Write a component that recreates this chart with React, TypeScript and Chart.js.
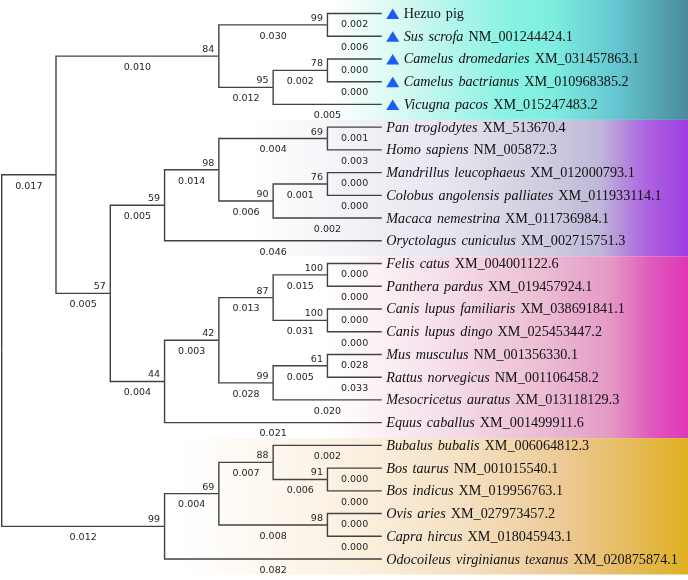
import React, { useEffect, useRef } from 'react';
import { Chart, registerables } from 'chart.js';

Chart.register(...registerables);

// ---------- DATA ----------
const speciesNames = [
  'Hezuo pig', 'Sus scrofa', 'Camelus dromedaries', 'Camelus bactrianus', 'Vicugna pacos',
  'Pan troglodytes', 'Homo sapiens', 'Mandrillus leucophaeus', 'Colobus angolensis palliates',
  'Macaca nemestrina', 'Oryctolagus cuniculus', 'Felis catus', 'Panthera pardus',
  'Canis lupus familiaris', 'Canis lupus dingo', 'Mus musculus', 'Rattus norvegicus',
  'Mesocricetus auratus', 'Equus caballus', 'Bubalus bubalis', 'Bos taurus', 'Bos indicus',
  'Ovis aries', 'Capra hircus', 'Odocoileus virginianus texanus',
];
const accessions = [
  '', 'NM_001244424.1', 'XM_031457863.1', 'XM_010968385.2', 'XM_015247483.2',
  'XM_513670.4', 'NM_005872.3', 'XM_012000793.1', 'XM_011933114.1',
  'XM_011736984.1', 'XM_002715751.3', 'XM_004001122.6', 'XM_019457924.1',
  'XM_038691841.1', 'XM_025453447.2', 'NM_001356330.1', 'NM_001106458.2',
  'XM_013118129.3', 'XM_001499911.6', 'XM_006064812.3', 'NM_001015540.1', 'XM_019956763.1',
  'XM_027973457.2', 'XM_018045943.1', 'XM_020875874.1',
];
const italicLeaves = [false, true, true, true, true, true, true, true, true, true, true, true, true,
  true, true, true, true, true, true, true, true, true, true, true, true];
const markedLeaves = [true, true, true, true, true];

// Tree topology: leaf indices, bootstrap values after ')', branch lengths after ':'
const treeNewick =
  '(' +
  '(' +
  '((0:0.002,1:0.006)99:0.030,((2:0.000,3:0.000)78:0.002,4:0.005)95:0.012)84:0.010,' +
  '(' +
  '(((5:0.001,6:0.003)69:0.004,((7:0.000,8:0.000)76:0.001,9:0.002)90:0.006)98:0.014,10:0.046)59:0.005,' +
  '((((11:0.000,12:0.000)100:0.015,(13:0.000,14:0.000)100:0.031)87:0.013,((15:0.028,16:0.033)61:0.005,17:0.020)99:0.028)42:0.003,18:0.021)44:0.004' +
  ')57:0.005' +
  '):0.017,' +
  '(((19:0.002,(20:0.000,21:0.000)91:0.006)88:0.007,(22:0.000,23:0.000)98:0.008)69:0.004,24:0.082)99:0.012' +
  ');';

// Coloured clade bands (first and last leaf row)
const cladeFirstRow = [0, 5, 11, 19];
const cladeLastRow = [4, 10, 18, 24];
const cladeGradientStart = [330, 250, 330, 180];
const cladeColorStops: [number, string][][] = [
  [[0, '#ffffff'], [0.2, '#d6f9f3'], [0.5, '#88f2e3'], [0.62, '#7eeee0'], [0.8, '#64c6d0'], [1, '#4a8a9c']],
  [[0, '#ffffff'], [0.45, '#e7e5ef'], [0.7, '#cdc8de'], [0.8, '#bfb6d9'], [0.9, '#ad66df'], [1, '#a03ce2']],
  [[0, '#ffffff'], [0.3, '#f6e0eb'], [0.6, '#ebbcd3'], [0.78, '#e59ac6'], [0.9, '#e058bd'], [1, '#df36b8']],
  [[0, '#ffffff'], [0.35, '#fbf0e0'], [0.55, '#f5e1c3'], [0.75, '#edca98'], [0.88, '#e5bb5e'], [1, '#dfb020']],
];

// ---------- TREE PARSING / LAYOUT ----------
type TNode = {
  children: TNode[];
  leaf?: number;
  len?: string;
  boot?: string;
  parent?: TNode;
  x: number;
  y: number;
  height: number;
};

function parseNewick(src: string): TNode {
  const s = src.replace(/\s+/g, '');
  let i = 0;
  function node(): TNode {
    const n: TNode = { children: [], x: 0, y: 0, height: 0 };
    if (s[i] === '(') {
      i++;
      const c = node();
      c.parent = n;
      n.children.push(c);
      while (s[i] === ',') {
        i++;
        const c2 = node();
        c2.parent = n;
        n.children.push(c2);
      }
      i++; // ')'
      let lab = '';
      while (i < s.length && /[0-9A-Za-z_]/.test(s[i])) lab += s[i++];
      if (lab) n.boot = lab;
    } else {
      let lab = '';
      while (i < s.length && /[0-9]/.test(s[i])) lab += s[i++];
      n.leaf = parseInt(lab, 10);
    }
    if (s[i] === ':') {
      i++;
      let l = '';
      while (i < s.length && /[0-9.]/.test(s[i])) l += s[i++];
      n.len = l;
    }
    return n;
  }
  return node();
}

function layout(root: TNode) {
  const all: TNode[] = [];
  function h(n: TNode): number {
    all.push(n);
    if (n.leaf !== undefined) {
      n.height = 0;
      n.y = n.leaf;
      return 0;
    }
    let m = 0;
    n.children.forEach((c) => (m = Math.max(m, h(c))));
    n.height = m + 1;
    n.y = (n.children[0].y + n.children[n.children.length - 1].y) / 2;
    return n.height;
  }
  const maxH = h(root);
  all.forEach((n) => (n.x = maxH - n.height));
  return { all, maxH };
}

export default function App() {
  const ref = useRef<HTMLCanvasElement | null>(null);

  useEffect(() => {
    document.body.style.margin = '0';
    const canvas = ref.current;
    if (!canvas) return;
    const root = parseNewick(treeNewick);
    const { all, maxH } = layout(root);
    const branches = all.filter((n) => n.parent);

    const lineColor = '#424242';
    const datasets: any[] = branches.map((n) => ({
      data: [
        { x: n.parent!.x, y: n.parent!.y },
        { x: n.parent!.x, y: n.y },
        { x: n.x, y: n.y },
      ],
      showLine: true,
      borderColor: lineColor,
      borderWidth: 1.4,
      pointRadius: 0,
      tension: 0,
      fill: false,
    }));

    const bandPlugin = {
      id: 'bands',
      beforeDatasetsDraw(chart: any) {
        const ctx = chart.ctx as CanvasRenderingContext2D;
        const ys = chart.scales.y;
        const area = chart.chartArea;
        ctx.save();
        let prevBottom = area.top;
        cladeFirstRow.forEach((first, k) => {
          const top = k === 0 ? area.top : prevBottom;
          const bottom = ys.getPixelForValue(cladeLastRow[k] + 0.68);
          prevBottom = bottom;
          const x0 = cladeGradientStart[k];
          const g = ctx.createLinearGradient(x0, 0, area.right, 0);
          cladeColorStops[k].forEach(([o, c]) => g.addColorStop(o, c));
          ctx.fillStyle = g;
          ctx.fillRect(x0, top, area.right - x0, bottom - top);
        });
        ctx.restore();
      },
    };

    const labelPlugin = {
      id: 'treeLabels',
      afterDatasetsDraw(chart: any) {
        const ctx = chart.ctx as CanvasRenderingContext2D;
        const xs = chart.scales.x;
        const ys = chart.scales.y;
        ctx.save();
        // branch lengths & bootstrap values
        ctx.font = '9.5px "DejaVu Sans"';
        ctx.fillStyle = '#1e1e1e';
        ctx.textBaseline = 'alphabetic';
        branches.forEach((n) => {
          const p1 = xs.getPixelForValue(n.parent!.x);
          const p2 = xs.getPixelForValue(n.x);
          const py = ys.getPixelForValue(n.y);
          if (n.len) {
            ctx.textAlign = 'center';
            ctx.fillText(n.len, (p1 + p2) / 2, py + 13.8);
          }
          if (n.boot) {
            ctx.textAlign = 'right';
            ctx.fillText(n.boot, p2 - 4.5, py - 4);
          }
        });
        // leaf labels
        const tipX = xs.getPixelForValue(maxH);
        ctx.textAlign = 'left';
        const c: any = ctx;
        if ('wordSpacing' in c) c.wordSpacing = '1.5px';
        speciesNames.forEach((name, i) => {
          const py = ys.getPixelForValue(i);
          let tx = tipX + 4.5;
          if (markedLeaves[i]) {
            const cx = tipX + 11;
            const cy = py + 0.5;
            ctx.fillStyle = '#1c5cf5';
            ctx.beginPath();
            ctx.moveTo(cx, cy - 5.5);
            ctx.lineTo(cx + 6.5, cy + 5);
            ctx.lineTo(cx - 6.5, cy + 5);
            ctx.closePath();
            ctx.fill();
            tx = tipX + 22;
          }
          ctx.fillStyle = '#111';
          ctx.font = (italicLeaves[i] ? 'italic ' : '') + '14.2px "Liberation Serif"';
          ctx.fillText(name, tx, py + 4.5);
          const w = ctx.measureText(name + ' ').width;
          if (accessions[i]) {
            ctx.font = '14.2px "Liberation Serif"';
            ctx.fillText(accessions[i], tx + w, py + 4.5);
          }
        });
        ctx.restore();
      },
    };

    const pxPerLevel = 54.29;
    const x0 = 1.7;
    const pxPerRow = 22.73;
    const y0 = 13.5;
    const W = 688;
    const H = 580;

    const chart = new Chart(canvas, {
      type: 'scatter',
      data: { datasets },
      options: {
        responsive: false,
        animation: false,
        devicePixelRatio: 1,
        events: [],
        layout: { padding: 0 },
        plugins: { legend: { display: false }, tooltip: { enabled: false } },
        scales: {
          x: { type: 'linear', display: false, min: -x0 / pxPerLevel, max: (W - x0) / pxPerLevel },
          y: { type: 'linear', display: false, reverse: true, min: -y0 / pxPerRow, max: (H - y0) / pxPerRow },
        },
      },
      plugins: [bandPlugin, labelPlugin],
    });
    return () => chart.destroy();
  }, []);

  return <canvas ref={ref} width={688} height={580} style={{ display: 'block', width: 688, height: 580 }} />;
}
